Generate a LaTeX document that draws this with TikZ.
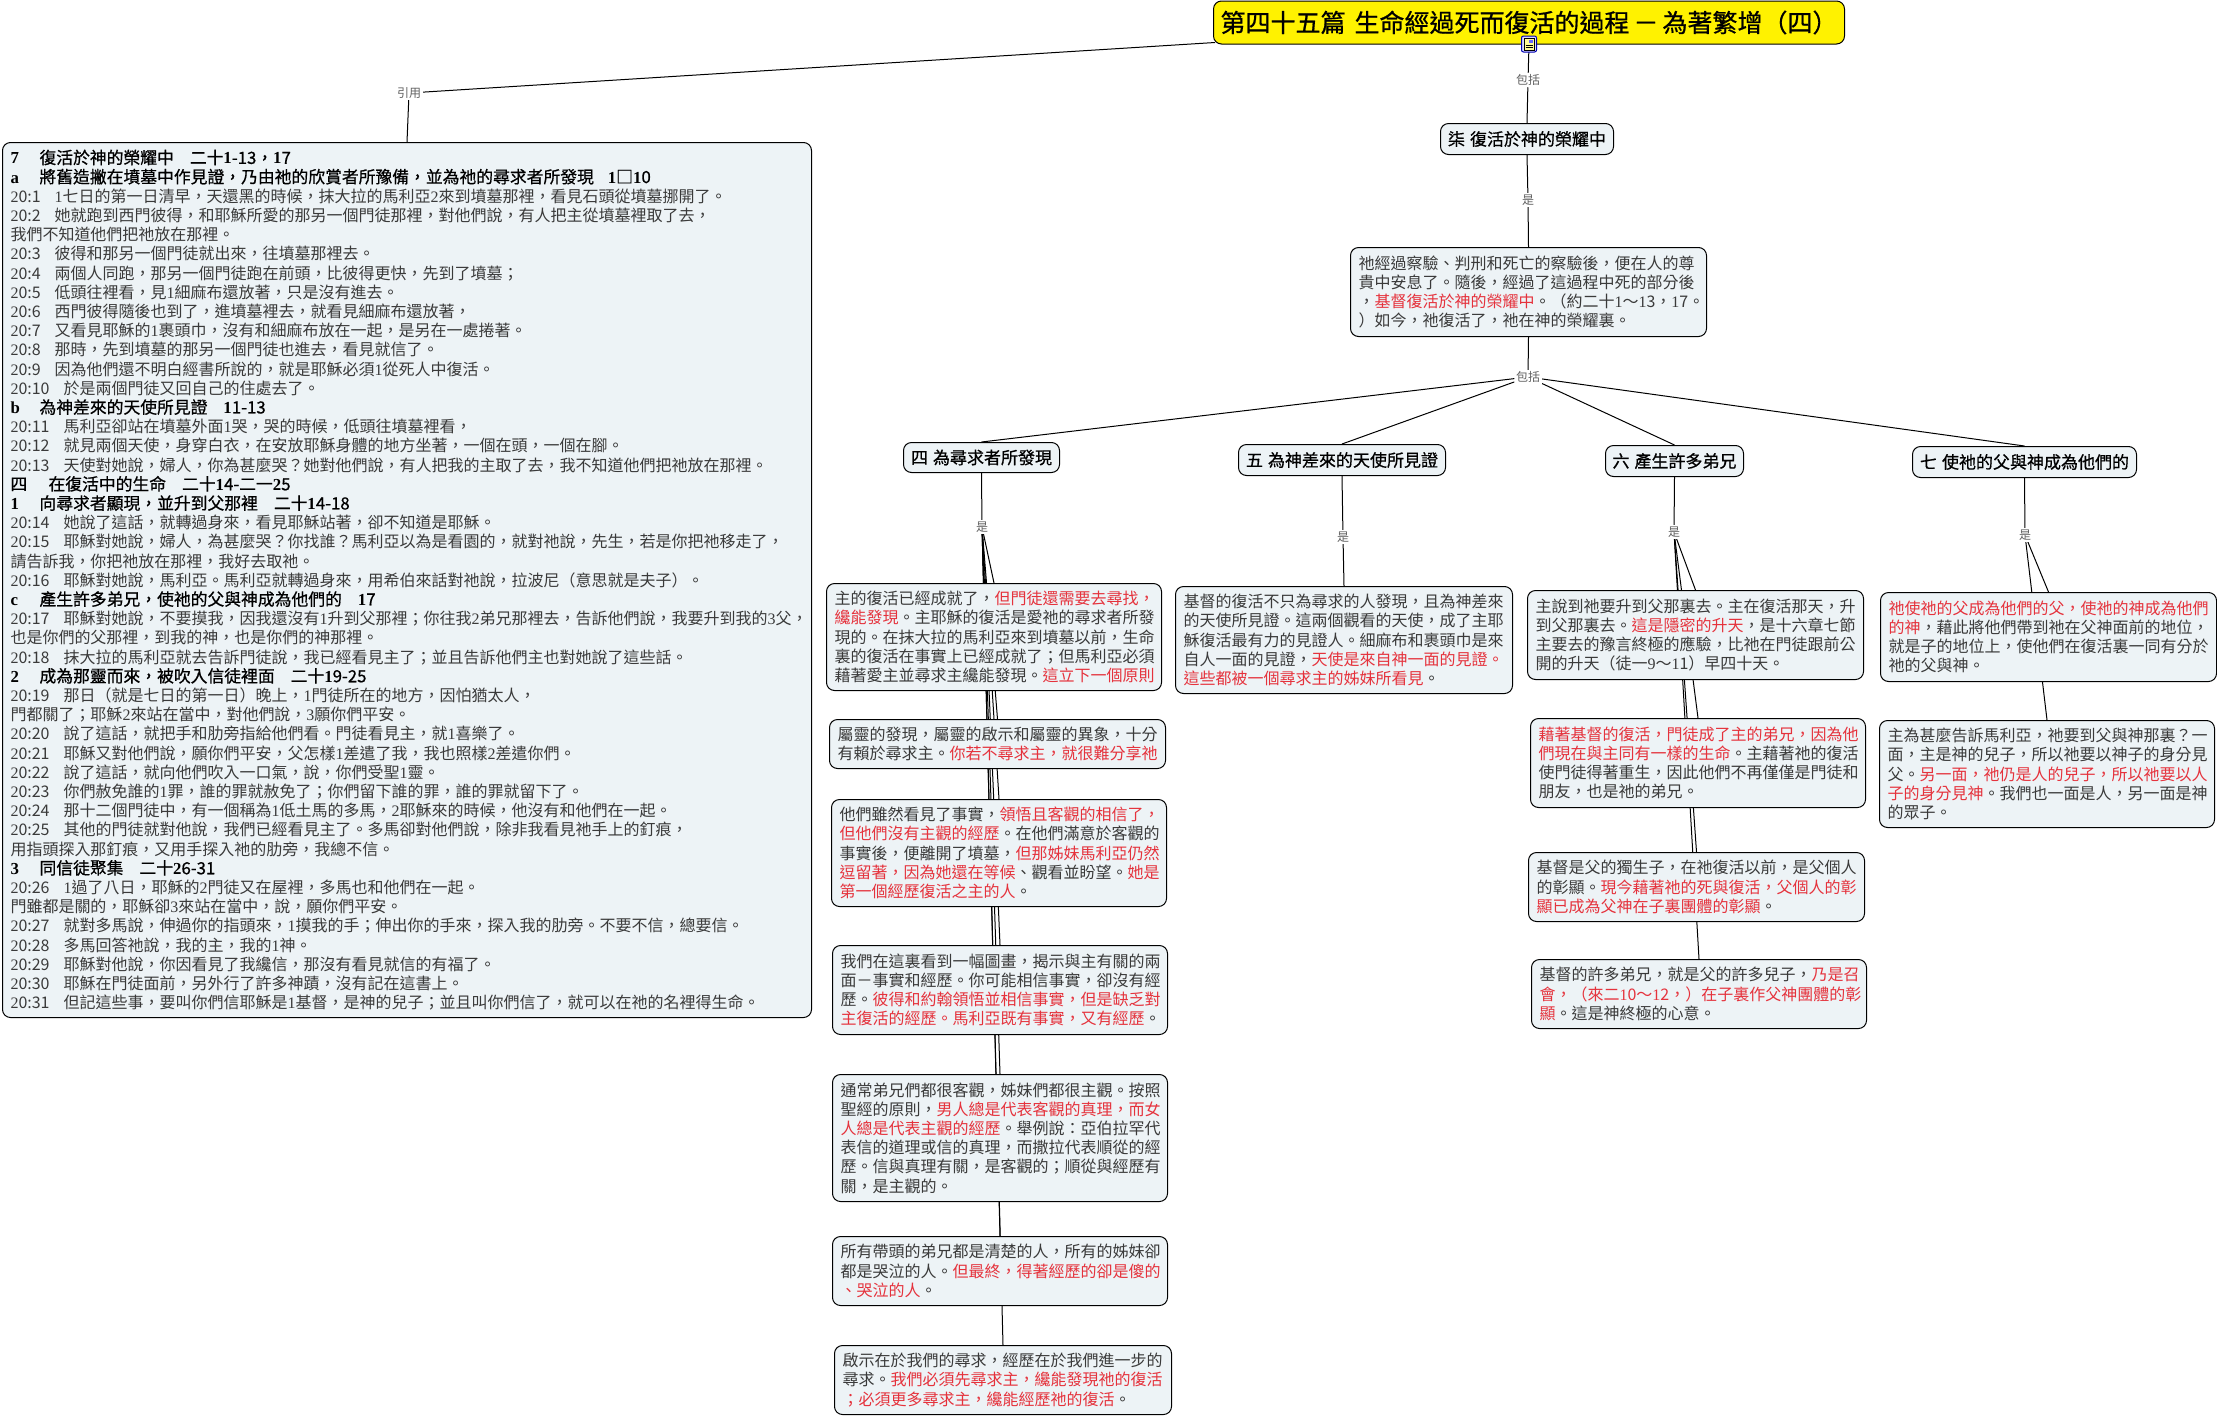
\documentclass[tikz,border=0pt]{standalone}
\usepackage{fontspec}
\usetikzlibrary{backgrounds}
\setmainfont{Noto Sans CJK TC}[BoldFont={Noto Sans CJK TC},BoldFeatures={FakeBold=0.7}]
\newfontfamily\cjkf{Noto Sans CJK TC}[BoldFont={Noto Sans CJK TC},BoldFeatures={FakeBold=0.7}]
\newfontfamily\latf{Liberation Serif}
% automatic switch to the serif Latin face for digits and verse marks
\XeTeXinterchartokenstate=1
\newXeTeXintercharclass\latclass
\makeatletter
\@tfor\c@h:=0123456789abc\do{\XeTeXcharclass\expandafter`\c@h=\latclass}
\makeatother
\XeTeXcharclass`\:=\latclass
\XeTeXcharclass`\-=\latclass
\XeTeXinterchartoks 0 \latclass={\latf}
\XeTeXinterchartoks 1 \latclass={\latf}
\XeTeXinterchartoks 2 \latclass={\latf}
\XeTeXinterchartoks 3 \latclass={\latf}
\XeTeXinterchartoks 4095 \latclass={\latf}
\XeTeXinterchartoks \latclass 0={\cjkf}
\XeTeXinterchartoks \latclass 1={\cjkf}
\XeTeXinterchartoks \latclass 2={\cjkf}
\XeTeXinterchartoks \latclass 3={\cjkf}
\XeTeXinterchartoks \latclass 4095={\cjkf}
\definecolor{boxfill}{HTML}{EDF3F6}
\definecolor{bodytxt}{HTML}{3A3A3A}
\definecolor{redtxt}{HTML}{E5323C}
\definecolor{labtxt}{HTML}{606060}
\newcommand{\rd}[1]{{\color{redtxt}#1}}
\newcommand{\g}{\hspace{14pt}}
\newcommand{\hd}[1]{\makebox[29pt][l]{#1}}
\newcommand{\bh}[1]{{\fontsize{16.8}{19.2}\selectfont\bfseries\color{black}#1}}
\tikzset{
  bx/.style={draw=black,line width=1pt,fill=boxfill,rounded corners=8pt,anchor=north west,
    inner xsep=8pt,inner ysep=0pt,align=left,text=bodytxt,font=\fontsize{16}{19.2}\selectfont},
  topic/.style={draw=black,line width=1pt,fill=boxfill,rounded corners=8pt,anchor=north west,
    inner xsep=0pt,inner ysep=0pt,align=center,text=black,font=\fontsize{17}{20}\selectfont\bfseries},
  lab/.style={fill=white,text=labtxt,inner sep=1.5pt,font=\fontsize{12}{12}\selectfont},
  ln/.style={draw=black,line width=1pt},
}
\begin{document}
\begin{tikzpicture}[x=1pt,y=-1pt]
\useasboundingbox (0,0) rectangle (2217,1417);
% title
\node[draw=black,line width=1pt,fill=yellow,rounded corners=8pt,anchor=north west,minimum width=631pt,minimum height=43pt,inner sep=0pt,
  font=\fontsize{25}{28}\selectfont\bfseries] (title) at (1213,0.5) {第四十五篇\hspace{9pt}生命經過死而復活的過程\hspace{4pt}－\hspace{4pt}為著繁增（四）};
% labels
\node[lab] (lcite) at (409,93) {引用};
\node[lab] (lmain) at (1528,80) {包括};
\node[lab] (lis) at (1528,200) {是};
\node[lab] (lhub) at (1528,377) {包括};
\node[lab] (l4) at (982,527) {是};
\node[lab] (l5) at (1343,537) {是};
\node[lab] (l6) at (1674,532) {是};
\node[lab] (l7) at (2025,535) {是};
% main heading
\node[topic,minimum width=173pt,minimum height=31pt] (t7) at (1440,123) {柒\hspace{5pt}復活於神的榮耀中};
\node[bx,text width=340pt,minimum height=89pt] (desc) at (1350,247) {祂經過察驗、判刑和死亡的察驗後，便在人的尊\\
貴中安息了。隨後，經過了這過程中死的部分後\\
，\rd{基督復活於神的榮耀中}。（約二十1～13，17。\\
）如今，祂復活了，祂在神的榮耀裏。};
% four topics
\node[topic,minimum width=156pt,minimum height=30pt] (t4) at (903,442) {四\hspace{5pt}為尋求者所發現};
\node[topic,minimum width=207pt,minimum height=31pt] (t5) at (1238,444) {五\hspace{5pt}為神差來的天使所見證};
\node[topic,minimum width=138pt,minimum height=31pt] (t6) at (1605,445) {六\hspace{5pt}產生許多弟兄};
\node[topic,minimum width=224pt,minimum height=31pt] (t77) at (1912,446) {七\hspace{5pt}使祂的父與神成為他們的};
% column 4
\node[bx,text width=319pt,minimum height=107pt] (a1) at (826,583) {主的復活已經成就了，\rd{但門徒還需要去尋找，\\
纔能發現}。主耶穌的復活是愛祂的尋求者所發\\
現的。在抹大拉的馬利亞來到墳墓以前，生命\\
裏的復活在事實上已經成就了；但馬利亞必須\\
藉著愛主並尋求主纔能發現。\rd{這立下一個原則}};
\node[bx,text width=320pt,minimum height=49pt] (a2) at (829,719) {屬靈的發現，屬靈的啟示和屬靈的異象，十分\\
有賴於尋求主。\rd{你若不尋求主，就很難分享祂}};
\node[bx,text width=319pt,minimum height=107pt] (a3) at (831,799) {他們雖然看見了事實，\rd{領悟且客觀的相信了，\\
但他們沒有主觀的經歷}。在他們滿意於客觀的\\
事實後，便離開了墳墓，\rd{但那姊妹馬利亞仍然\\
逗留著，因為她還在等候}、觀看並盼望。\rd{她是\\
第一個經歷復活之主的人}。};
\node[bx,text width=319pt,minimum height=89pt] (a4) at (832,945) {我們在這裏看到一幅圖畫，揭示與主有關的兩\\
面－事實和經歷。你可能相信事實，卻沒有經\\
歷。\rd{彼得和約翰領悟並相信事實，但是缺乏對\\
主復活的經歷。馬利亞既有事實，又有經歷}。};
\node[bx,text width=319pt,minimum height=127pt] (a5) at (832,1074) {通常弟兄們都很客觀，姊妹們都很主觀。按照\\
聖經的原則，\rd{男人總是代表客觀的真理，而女\\
人總是代表主觀的經歷}。舉例說：亞伯拉罕代\\
表信的道理或信的真理，而撒拉代表順從的經\\
歷。信與真理有關，是客觀的；順從與經歷有\\
關，是主觀的。};
\node[bx,text width=319pt,minimum height=69pt] (a6) at (832,1236) {所有帶頭的弟兄都是清楚的人，所有的姊妹卻\\
都是哭泣的人。\rd{但最終，得著經歷的卻是傻的\\
、哭泣的人}。};
\node[bx,text width=321pt,minimum height=69pt] (a7) at (834,1345) {啟示在於我們的尋求，經歷在於我們進一步的\\
尋求。\rd{我們必須先尋求主，纔能發現祂的復活\\
；必須更多尋求主，纔能經歷祂的復活}。};
% column 5
\node[bx,text width=321pt,minimum height=107pt] (b1) at (1175,586) {基督的復活不只為尋求的人發現，且為神差來\\
的天使所見證。這兩個觀看的天使，成了主耶\\
穌復活最有力的見證人。細麻布和裹頭巾是來\\
自人一面的見證，\rd{天使是來自神一面的見證。\\
這些都被一個尋求主的姊妹所看見}。};
% column 6
\node[bx,text width=320pt,minimum height=89pt] (c1) at (1527,590) {主說到祂要升到父那裏去。主在復活那天，升\\
到父那裏去。\rd{這是隱密的升天}，是十六章七節\\
主要去的豫言終極的應驗，比祂在門徒跟前公\\
開的升天（徒一9～11）早四十天。};
\node[bx,text width=319pt,minimum height=89pt] (c2) at (1530,718) {\rd{藉著基督的復活，門徒成了主的弟兄，因為他\\
們現在與主同有一樣的生命}。主藉著祂的復活\\
使門徒得著重生，因此他們不再僅僅是門徒和\\
朋友，也是祂的弟兄。};
\node[bx,text width=320pt,minimum height=69pt] (c3) at (1528,852) {基督是父的獨生子，在祂復活以前，是父個人\\
的彰顯。\rd{現今藉著祂的死與復活，父個人的彰\\
顯已成為父神在子裏團體的彰顯}。};
\node[bx,text width=319pt,minimum height=69pt] (c4) at (1531,959) {基督的許多弟兄，就是父的許多兒子，\rd{乃是召\\
會，（來二10～12，）在子裏作父神團體的彰\\
顯}。這是神終極的心意。};
% column 7
\node[bx,text width=320pt,minimum height=89pt] (e1) at (1880,592) {\rd{祂使祂的父成為他們的父，使祂的神成為他們\\
的神}，藉此將他們帶到祂在父神面前的地位，\\
就是子的地位上，使他們在復活裏一同有分於\\
祂的父與神。};
\node[bx,text width=319pt,minimum height=107pt] (e2) at (1879,720) {主為甚麼告訴馬利亞，祂要到父與神那裏？一\\
面，主是神的兒子，所以祂要以神子的身分見\\
父。\rd{另一面，祂仍是人的兒子，所以祂要以人\\
子的身分見神}。我們也一面是人，另一面是神\\
的眾子。};
% scripture panel
\node[bx,text width=793pt,minimum height=875pt] (panel) at (2,142) {%
\bh{\hd{7}復活於神的榮耀中\hspace{16pt}二十1-13，17}\\
\bh{\hd{a}將舊造撇在墳墓中作見證，乃由祂的欣賞者所豫備，並為祂的尋求者所發現\hspace{14pt}1□10}\\
20:1\g 1七日的第一日清早，天還黑的時候，抹大拉的馬利亞2來到墳墓那裡，看見石頭從墳墓挪開了。\\
20:2\g 她就跑到西門彼得，和耶穌所愛的那另一個門徒那裡，對他們說，有人把主從墳墓裡取了去，\\
我們不知道他們把祂放在那裡。\\
20:3\g 彼得和那另一個門徒就出來，往墳墓那裡去。\\
20:4\g 兩個人同跑，那另一個門徒跑在前頭，比彼得更快，先到了墳墓；\\
20:5\g 低頭往裡看，見1細麻布還放著，只是沒有進去。\\
20:6\g 西門彼得隨後也到了，進墳墓裡去，就看見細麻布還放著，\\
20:7\g 又看見耶穌的1裹頭巾，沒有和細麻布放在一起，是另在一處捲著。\\
20:8\g 那時，先到墳墓的那另一個門徒也進去，看見就信了。\\
20:9\g 因為他們還不明白經書所說的，就是耶穌必須1從死人中復活。\\
20:10\g 於是兩個門徒又回自己的住處去了。\\
\bh{\hd{b}為神差來的天使所見證\hspace{16pt}11-13}\\
20:11\g 馬利亞卻站在墳墓外面1哭，哭的時候，低頭往墳墓裡看，\\
20:12\g 就見兩個天使，身穿白衣，在安放耶穌身體的地方坐著，一個在頭，一個在腳。\\
20:13\g 天使對她說，婦人，你為甚麼哭？她對他們說，有人把我的主取了去，我不知道他們把祂放在那裡。\\
\bh{\makebox[38pt][l]{四}在復活中的生命\hspace{16pt}二十14-二一25}\\
\bh{\hd{1}向尋求者顯現，並升到父那裡\hspace{16pt}二十14-18}\\
20:14\g 她說了這話，就轉過身來，看見耶穌站著，卻不知道是耶穌。\\
20:15\g 耶穌對她說，婦人，為甚麼哭？你找誰？馬利亞以為是看園的，就對祂說，先生，若是你把祂移走了，\\
請告訴我，你把祂放在那裡，我好去取祂。\\
20:16\g 耶穌對她說，馬利亞。馬利亞就轉過身來，用希伯來話對祂說，拉波尼（意思就是夫子）。\\
\bh{\hd{c}產生許多弟兄，使祂的父與神成為他們的\hspace{16pt}17}\\
20:17\g 耶穌對她說，不要摸我，因我還沒有1升到父那裡；你往我2弟兄那裡去，告訴他們說，我要升到我的3父，\\
也是你們的父那裡，到我的神，也是你們的神那裡。\\
20:18\g 抹大拉的馬利亞就去告訴門徒說，我已經看見主了；並且告訴他們主也對她說了這些話。\\
\bh{\hd{2}成為那靈而來，被吹入信徒裡面\hspace{16pt}二十19-25}\\
20:19\g 那日（就是七日的第一日）晚上，1門徒所在的地方，因怕猶太人，\\
門都關了；耶穌2來站在當中，對他們說，3願你們平安。\\
20:20\g 說了這話，就把手和肋旁指給他們看。門徒看見主，就1喜樂了。\\
20:21\g 耶穌又對他們說，願你們平安，父怎樣1差遣了我，我也照樣2差遣你們。\\
20:22\g 說了這話，就向他們吹入一口氣，說，你們受聖1靈。\\
20:23\g 你們赦免誰的1罪，誰的罪就赦免了；你們留下誰的罪，誰的罪就留下了。\\
20:24\g 那十二個門徒中，有一個稱為1低土馬的多馬，2耶穌來的時候，他沒有和他們在一起。\\
20:25\g 其他的門徒就對他說，我們已經看見主了。多馬卻對他們說，除非我看見祂手上的釘痕，\\
用指頭探入那釘痕，又用手探入祂的肋旁，我總不信。\\
\bh{\hd{3}同信徒聚集\hspace{16pt}二十26-31}\\
20:26\g 1過了八日，耶穌的2門徒又在屋裡，多馬也和他們在一起。\\
門雖都是關的，耶穌卻3來站在當中，說，願你們平安。\\
20:27\g 就對多馬說，伸過你的指頭來，1摸我的手；伸出你的手來，探入我的肋旁。不要不信，總要信。\\
20:28\g 多馬回答祂說，我的主，我的1神。\\
20:29\g 耶穌對他說，你因看見了我纔信，那沒有看見就信的有福了。\\
20:30\g 耶穌在門徒面前，另外行了許多神蹟，沒有記在這書上。\\
20:31\g 但記這些事，要叫你們信耶穌是1基督，是神的兒子；並且叫你們信了，就可以在祂的名裡得生命。};
% connectors behind the boxes
\begin{pgfonlayer}{background}
\fill[white] (0,0) rectangle (2217,1417);
\draw[ln] ([shift={(2,-2)}]title.south west) -- (lcite);
\draw[ln] (lcite) -- (panel.north);
\draw[ln] (title.south) -- (lmain);
\draw[ln] (lmain) -- (t7.north);
\draw[ln] (t7.south) -- (lis);
\draw[ln] (lis) -- (desc.north);
\draw[ln] (desc.south) -- (lhub);
\foreach \t in {t4,t5,t6,t77} {\draw[ln] (lhub) -- (\t.north);}
\draw[ln] (t4.south) -- (l4);
\foreach \t in {a1,a2,a3,a4,a5,a6,a7} {\draw[ln] (l4) -- (\t.north);}
\draw[ln] (t5.south) -- (l5);
\draw[ln] (l5) -- (b1.north);
\draw[ln] (t6.south) -- (l6);
\foreach \t in {c1,c2,c3,c4} {\draw[ln] (l6) -- (\t.north);}
\draw[ln] (t77.south) -- (l7);
\foreach \t in {e1,e2} {\draw[ln] (l7) -- (\t.north);}
\end{pgfonlayer}
% note icon on the title edge
\node[draw=blue!70!black,fill=blue!15,rounded corners=2pt,line width=1pt,minimum width=15pt,minimum height=16pt,inner sep=0pt] (icon) at (1529,44) {};
\fill[yellow!40] (1524,38) rectangle (1534,50);
\draw[black,line width=.8pt] (1524,38) rectangle (1534,50);
\draw[black,line width=1pt] (1525.5,45) -- (1532.5,45) (1525.5,47.5) -- (1532.5,47.5);
\fill[blue!60] (1529,39.5) rectangle (1533,43);
\end{tikzpicture}
\end{document}
